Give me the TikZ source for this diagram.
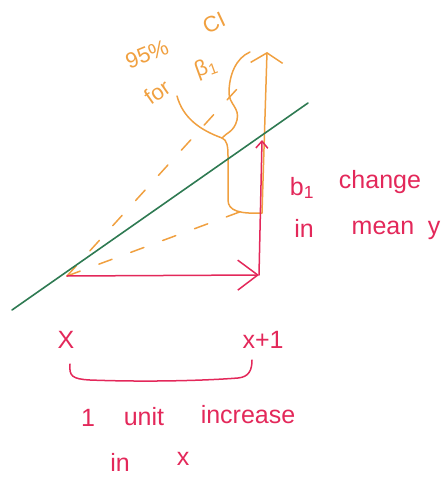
\documentclass[tikz,border=0pt]{standalone}
\usepackage{fontspec}
\setmainfont{Liberation Sans}
\usetikzlibrary{arrows.meta}
\definecolor{hred}{HTML}{E3285A}
\definecolor{horange}{HTML}{F0A040}
\definecolor{hgreen}{HTML}{2E7A52}
\begin{document}
\begin{tikzpicture}[x=1pt,y=-1pt,
  redpen/.style={draw=hred, line width=1.5pt, line cap=round},
  orpen/.style={draw=horange, line width=1.5pt, line cap=round},
  redtxt/.style={text=hred, font=\fontsize{25}{27}\selectfont, inner sep=0pt},
  ortxt/.style={text=horange, font=\fontsize{22}{24}\selectfont, inner sep=0pt},
  orcidash/.style={orpen, dash pattern=on 14pt off 20pt}]
\useasboundingbox (0,0) rectangle (446,478);
% coordinates
\coordinate (g0) at (12,310);
\coordinate (g1) at (308,103);
\coordinate (o) at (67,276);
\coordinate (h) at (259,275);
\coordinate (vtop) at (262,140);
\coordinate (obot) at (262,213);
\coordinate (otop) at (267,52);
\coordinate (cihi) at (247,78);
\coordinate (cilo) at (253,207);
\coordinate (btop) at (250,52);
\coordinate (btip) at (222,138);
\coordinate (bbot) at (262,213);
% dashed CI lines
\draw[orcidash] (o) -- (cihi);
\draw[orcidash] (o) -- (cilo);
% orange arrow
\draw[orpen, -{Straight Barb[length=10pt,width=32pt]}] (obot) -- (otop);
% brace
\draw[orpen] (btop) .. controls (236,58) and (229,75) .. (229,93)
  .. controls (229,104) and (240,108) .. (237,120)
  .. controls (234,132) and (226,133) .. (btip);
\draw[orpen] (btip) .. controls (227,140) and (228,146) .. (228,156)
  -- (228,200) .. controls (228,211) and (240,214) .. (bbot);
% green line
\draw[hgreen, line width=1.6pt, line cap=round] (g0) -- (g1);
% red arrows
\draw[redpen, -{Straight Barb[length=20pt,width=30pt]}] (o) -- (h);
\draw[redpen, -{Straight Barb[length=7pt,width=12pt]}] (h) -- (vtop);
% orange labels
\node[ortxt, rotate=22] (l95) at (147,54) {95\%};
\node[ortxt, rotate=25] (lci) at (214,23) {CI};
\node[ortxt, rotate=35] (lfor) at (157,92) {for};
\node[ortxt, rotate=20] (lbeta) at (206,68) {β\textsubscript{1}};
\coordinate (pstart) at (177,96);
\draw[orpen] (pstart) .. controls (183,118) and (200,130) .. (btip);
% red labels
\node[redtxt] (lb1) at (302,188) {b\textsubscript{1}};
\node[redtxt] (lchange) at (380,182) {change};
\node[redtxt] (lin) at (304,228) {in};
\node[redtxt] (lmean) at (383,228) {mean};
\node[redtxt] (ly) at (434,230) {y};
\node[redtxt] (lx) at (66,340) {X};
\node[redtxt] (lx1) at (263,340) {x+1};
\coordinate (brl) at (70,364);
\coordinate (brr) at (252,360);
\draw[redpen] (brl) .. controls (69,376) and (72,379) .. (90,380)
  .. controls (140,382) and (200,381) .. (238,378)
  .. controls (249,377) and (252,370) .. (brr);
\node[redtxt] (lone) at (88,418) {1};
\node[redtxt] (lunit) at (144,417) {unit};
\node[redtxt] (linc) at (248,415) {increase};
\node[redtxt] (lin2) at (120,462) {in};
\node[redtxt] (lxx) at (183,459) {x};
\end{tikzpicture}
\end{document}
